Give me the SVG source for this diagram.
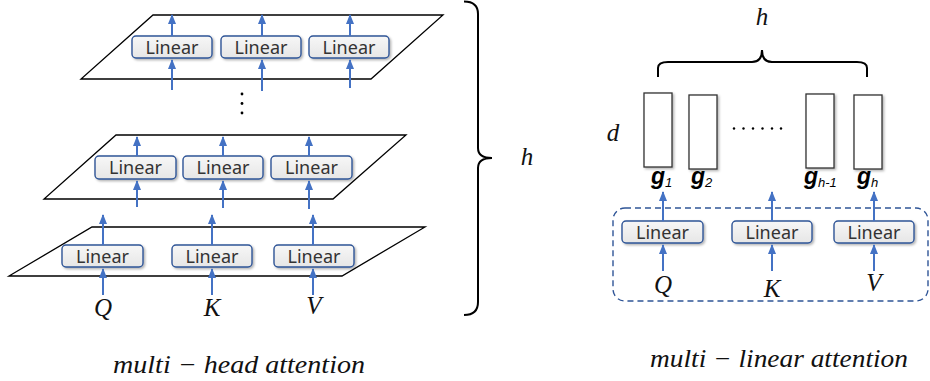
<svg xmlns="http://www.w3.org/2000/svg" width="930" height="381" viewBox="0 0 930 381">
<style>
.plane{fill:none;stroke:#000;stroke-width:1.3}
.box{fill:url(#boxg);stroke:#2F5597;stroke-width:1.4;filter:url(#sh)}
.lt{font-family:"Noto Sans","DejaVu Sans",sans-serif;font-size:18px;fill:#333;text-anchor:middle}
.arr{stroke:#4472C4;stroke-width:2;fill:none;marker-end:url(#ah)}
.math{font-family:"Liberation Serif",serif;font-style:italic;font-size:25px;fill:#111}
.cap{font-family:"Liberation Serif",serif;font-style:italic;font-size:25px;fill:#111}
.g{font-family:"Liberation Sans",Arial,sans-serif;font-style:italic;font-weight:bold;font-size:23px;fill:#000}
.gs{font-family:"Liberation Sans",Arial,sans-serif;font-style:italic;font-size:13px;fill:#000}
.col{fill:#fff;stroke:#333;stroke-width:1.3;filter:url(#sh)}
.brace{fill:none;stroke:#000;stroke-width:2}
</style>
<defs>
<linearGradient id="boxg" x1="0" y1="0" x2="0" y2="1">
<stop offset="0" stop-color="#f7f7f7"/>
<stop offset="1" stop-color="#e6e6e6"/>
</linearGradient>
<filter id="sh" x="-20%" y="-30%" width="140%" height="160%">
<feDropShadow dx="1.5" dy="1.5" stdDeviation="1.2" flood-color="#000" flood-opacity="0.3"/>
</filter>
<marker id="ah" markerUnits="userSpaceOnUse" markerWidth="10" markerHeight="10" viewBox="0 0 10 10" refX="9" refY="5" orient="auto">
<path d="M0,1 L10,5 L0,9 Z" fill="#4472C4"/>
</marker>
</defs>

<!-- left: multi-head attention -->
<g id="plane-top">
<polygon class="plane" points="153,15 443,15 371,79 81,79"/>
<g id="top-linear-1"><rect class="box" x="132" y="36" width="80" height="22" rx="4"/><text class="lt" x="172" y="53.5">Linear</text></g>
<g id="top-linear-2"><rect class="box" x="221" y="36" width="80" height="22" rx="4"/><text class="lt" x="261" y="53.5">Linear</text></g>
<g id="top-linear-3"><rect class="box" x="309" y="36" width="80" height="22" rx="4"/><text class="lt" x="349" y="53.5">Linear</text></g>
</g>
<g id="ellipsis-v">
<circle cx="242" cy="94" r="1.4" fill="#000"/>
<circle cx="242" cy="103.5" r="1.4" fill="#000"/>
<circle cx="242" cy="113" r="1.4" fill="#000"/>
</g>
<g id="plane-mid">
<polygon class="plane" points="116,135 406,135 333,199 44,199"/>
<g id="mid-linear-1"><rect class="box" x="95" y="156" width="81" height="23" rx="4"/><text class="lt" x="135.5" y="174">Linear</text></g>
<g id="mid-linear-2"><rect class="box" x="183" y="156" width="80" height="23" rx="4"/><text class="lt" x="223" y="174">Linear</text></g>
<g id="mid-linear-3"><rect class="box" x="271" y="156" width="81" height="23" rx="4"/><text class="lt" x="311.5" y="174">Linear</text></g>
</g>
<g id="plane-bottom">
<polygon class="plane" points="92,227 425,227 342,276 9,276"/>
<g id="bot-linear-1"><rect class="box" x="62" y="245" width="81" height="22" rx="4"/><text class="lt" x="102.5" y="262.5">Linear</text></g>
<g id="bot-linear-2"><rect class="box" x="172" y="245" width="80" height="22" rx="4"/><text class="lt" x="212" y="262.5">Linear</text></g>
<g id="bot-linear-3"><rect class="box" x="274" y="245" width="80" height="22" rx="4"/><text class="lt" x="314" y="262.5">Linear</text></g>
</g>
<g id="input-Q-left"><text class="math" x="103" y="316" text-anchor="middle">Q</text></g>
<g id="input-K-left"><text class="math" x="212" y="316" text-anchor="middle">K</text></g>
<g id="input-V-left"><text class="math" x="314" y="314" text-anchor="middle">V</text></g>
<g id="brace-left">
<path class="brace" d="M464,1.5 Q478,1.5 478,14 L478,148 Q478,158 492,158 Q478,158 478,168 L478,302 Q478,315 464,315"/>
<text class="math" x="527" y="165" text-anchor="middle">h</text>
</g>
<text class="cap" x="113" y="373" textLength="252" lengthAdjust="spacingAndGlyphs">multi − head attention</text>

<!-- right: multi-linear attention -->
<g id="brace-top">
<path class="brace" d="M658,77 L658,68 Q658,62 668,62 L752,62 Q762,62 762,50 Q762,62 772,62 L857,62 Q867,62 867,68 L867,77"/>
<text class="math" x="762" y="25" text-anchor="middle">h</text>
</g>
<text class="math" x="613" y="141" text-anchor="middle">d</text>
<g id="g1"><rect class="col" x="644" y="93" width="28" height="74"/><text class="g" x="651" y="184">g</text><text class="gs" x="665" y="187">1</text></g>
<g id="g2"><rect class="col" x="689" y="95" width="28" height="74"/><text class="g" x="691" y="184">g</text><text class="gs" x="705" y="187">2</text></g>
<g id="ellipsis-h">
<circle cx="734" cy="128.5" r="1.2" fill="#000"/><circle cx="743.5" cy="128.5" r="1.2" fill="#000"/><circle cx="753" cy="128.5" r="1.2" fill="#000"/><circle cx="762.5" cy="128.5" r="1.2" fill="#000"/><circle cx="772" cy="128.5" r="1.2" fill="#000"/><circle cx="781" cy="128.5" r="1.2" fill="#000"/>
</g>
<g id="gh-1"><rect class="col" x="806" y="94" width="28" height="74"/><text class="g" x="804" y="184">g</text><text class="gs" x="818" y="187">h-1</text></g>
<g id="gh"><rect class="col" x="854" y="95" width="28" height="74"/><text class="g" x="857" y="184">g</text><text class="gs" x="871" y="187">h</text></g>
<g id="group-dashed"><rect x="613" y="208" width="315" height="93" rx="12" fill="none" stroke="#2F5597" stroke-width="1.4" stroke-dasharray="6,4"/></g>
<g id="r-linear-1"><rect class="box" x="622" y="221" width="81" height="22" rx="4"/><text class="lt" x="662.5" y="238.5">Linear</text></g>
<g id="r-linear-2"><rect class="box" x="732" y="221" width="80" height="22" rx="4"/><text class="lt" x="772" y="238.5">Linear</text></g>
<g id="r-linear-3"><rect class="box" x="834" y="221" width="80" height="22" rx="4"/><text class="lt" x="874" y="238.5">Linear</text></g>
<g id="input-Q-right"><text class="math" x="663" y="293" text-anchor="middle">Q</text></g>
<g id="input-K-right"><text class="math" x="772" y="297" text-anchor="middle">K</text></g>
<g id="input-V-right"><text class="math" x="874" y="291" text-anchor="middle">V</text></g>
<text class="cap" x="650" y="367" textLength="258" lengthAdjust="spacingAndGlyphs">multi − linear attention</text>

<g id="connectors">
<line class="arr" x1="172" y1="36" x2="172" y2="15"/>
<line class="arr" x1="262" y1="36" x2="262" y2="15"/>
<line class="arr" x1="350" y1="36" x2="350" y2="15"/>
<line class="arr" x1="172" y1="90" x2="172" y2="60"/>
<line class="arr" x1="262" y1="91" x2="262" y2="60"/>
<line class="arr" x1="350" y1="88" x2="350" y2="60"/>
<line class="arr" x1="137" y1="156" x2="137" y2="137"/>
<line class="arr" x1="223" y1="156" x2="223" y2="137"/>
<line class="arr" x1="309" y1="156" x2="309" y2="137"/>
<line class="arr" x1="137" y1="207" x2="137" y2="181"/>
<line class="arr" x1="223" y1="208" x2="223" y2="181"/>
<line class="arr" x1="309" y1="209" x2="309" y2="181"/>
<line class="arr" x1="103" y1="245" x2="103" y2="215"/>
<line class="arr" x1="212" y1="245" x2="212" y2="215"/>
<line class="arr" x1="313" y1="245" x2="313" y2="215"/>
<line class="arr" x1="103" y1="295" x2="103" y2="269"/>
<line class="arr" x1="212" y1="295" x2="212" y2="269"/>
<line class="arr" x1="313" y1="295" x2="313" y2="269"/>
<line class="arr" x1="663" y1="221" x2="663" y2="192"/>
<line class="arr" x1="772" y1="221" x2="772" y2="192"/>
<line class="arr" x1="874" y1="221" x2="874" y2="192"/>
<line class="arr" x1="663" y1="271" x2="663" y2="245"/>
<line class="arr" x1="772" y1="271" x2="772" y2="245"/>
<line class="arr" x1="874" y1="271" x2="874" y2="245"/>
</g>
</svg>
